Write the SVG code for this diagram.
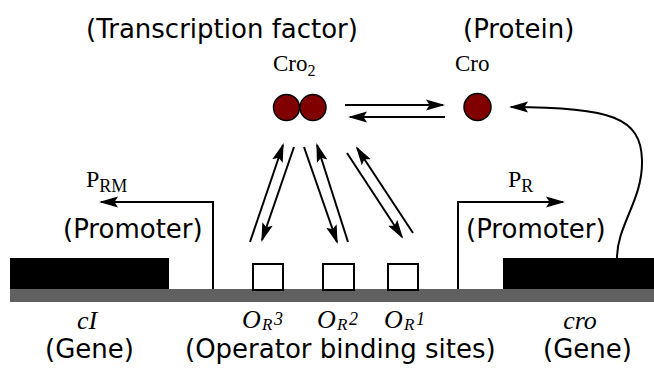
<svg xmlns="http://www.w3.org/2000/svg" width="654" height="371" viewBox="0 0 654 371">
<style>
.sans{font-family:"DejaVu Sans",sans-serif;font-size:26px;fill:#000}
.serif{font-family:"Liberation Serif",serif;fill:#000}
.it{font-style:italic}
.o{font-size:26px}
.sub{font-size:18px}
.rs{font-size:17px}
.ln{stroke:#000;stroke-width:2;fill:none}
.mol{fill:#800000;stroke:#000;stroke-width:1.5}
.site{fill:#fff;stroke:#000;stroke-width:2}
</style>
<defs>
<marker id="ah" markerUnits="userSpaceOnUse" markerWidth="20" markerHeight="12" refX="17" refY="5.5" orient="auto" viewBox="0 0 20 11">
<path d="M0,0 L19,5.5 L0,11 L3.5,5.5 z" fill="#000"/>
</marker>
</defs>
<rect width="654" height="371" fill="#fff"/>

<g id="labels-top">
<text class="sans" x="86" y="38">(Transcription factor)</text>
<text class="sans" x="463" y="38">(Protein)</text>
</g>

<g id="cro2">
<text class="serif" x="273" y="71" font-size="23">Cro<tspan font-size="16" dy="5">2</tspan></text>
<circle class="mol" cx="286.5" cy="107.5" r="13"/>
<circle class="mol" cx="313" cy="107.5" r="13"/>
</g>

<g id="cro">
<text class="serif" x="455" y="71" font-size="23">Cro</text>
<circle class="mol" cx="477.5" cy="107" r="13.5"/>
</g>

<g id="dna">
<rect x="10" y="289" width="644" height="13" fill="#606060"/>
</g>

<g id="cI-gene">
<rect x="10" y="258" width="159" height="31" fill="#000"/>
<text class="serif it o" x="87" y="329" text-anchor="middle">cI</text>
<text class="sans" x="45" y="358">(Gene)</text>
</g>

<g id="cro-gene">
<rect x="503" y="258" width="151" height="31" fill="#000"/>
<text class="serif it o" x="580" y="329" text-anchor="middle">cro</text>
<text class="sans" x="543" y="358">(Gene)</text>
</g>

<g id="PRM">
<text class="serif" x="86" y="187" font-size="24">P<tspan class="sub" dy="5">RM</tspan></text>
<text class="sans" x="63" y="238">(Promoter)</text>
</g>

<g id="PR">
<text class="serif" x="508" y="187" font-size="24">P<tspan class="sub" dy="5">R</tspan></text>
<text class="sans" x="466" y="238">(Promoter)</text>
</g>

<g id="OR3">
<rect class="site" x="253" y="264" width="30" height="26"/>
<text class="serif it o" x="242" y="328">O</text>
<text class="serif it rs" x="262" y="330">R</text>
<text class="serif it sub" x="274" y="325">3</text>
</g>
<g id="OR2">
<rect class="site" x="323" y="264" width="31" height="26"/>
<text class="serif it o" x="317" y="328">O</text>
<text class="serif it rs" x="337" y="330">R</text>
<text class="serif it sub" x="349" y="325">2</text>
</g>
<g id="OR1">
<rect class="site" x="388" y="264" width="30" height="26"/>
<text class="serif it o" x="384" y="328">O</text>
<text class="serif it rs" x="404" y="330">R</text>
<text class="serif it sub" x="416" y="325">1</text>
</g>
<text class="sans" x="185" y="358">(Operator binding sites)</text>

<g id="connectors">
<path class="ln" d="M213,289 V202 H101" marker-end="url(#ah)"/>
<path class="ln" d="M458,289 V202 H563" marker-end="url(#ah)"/>
<path class="ln" d="M345,105 H443" marker-end="url(#ah)"/>
<path class="ln" d="M445,117 H350" marker-end="url(#ah)"/>
<path class="ln" d="M250,242 L283,145" marker-end="url(#ah)"/>
<path class="ln" d="M294,147 L262,240" marker-end="url(#ah)"/>
<path class="ln" d="M304,147 L337,242" marker-end="url(#ah)"/>
<path class="ln" d="M348,242 L317,145" marker-end="url(#ah)"/>
<path class="ln" d="M347,153 L402,237" marker-end="url(#ah)"/>
<path class="ln" d="M413,233 L357,148" marker-end="url(#ah)"/>
<path class="ln" d="M617,258 C617,225 643,200 642,160 C641,118 612,107 511,107" marker-end="url(#ah)"/>
</g>
</svg>
